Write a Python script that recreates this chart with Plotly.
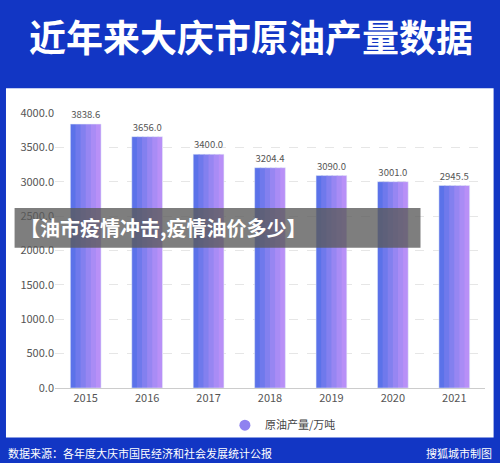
import plotly.graph_objects as go

years = ["2015", "2016", "2017", "2018", "2019", "2020", "2021"]
output = [3838.6, 3656.0, 3400.0, 3204.4, 3090.0, 3001.0, 2945.5]
labels = ["3838.6", "3656.0", "3400.0", "3204.4", "3090.0", "3001.0", "2945.5"]
yticks = [0, 500, 1000, 1500, 2000, 2500, 3000, 3500, 4000]

F = "Noto Sans CJK SC"
fig = go.Figure()
strips = ["#5b72e9", "#6f79ec", "#8380ef", "#9786f2", "#a98cf5", "#b890f7"]
n = len(strips)
w = 0.5
x = list(range(len(years)))
for i, c in enumerate(strips):
    fig.add_trace(go.Bar(x=x, y=output, width=w / n * 1.3 if i < n - 1 else w / n,
                         offset=-w / 2 + i * w / n,
                         marker=dict(color=c, line_width=0), showlegend=False, hoverinfo="skip"))
fig.add_trace(go.Bar(x=x, y=output, width=w, offset=-w / 2, marker=dict(color="rgba(0,0,0,0)"),
                     text=labels, textposition="outside", textfont=dict(size=9.5, color="#555"),
                     cliponaxis=False, showlegend=False))
fig.add_trace(go.Scatter(x=[None], y=[None], mode="markers", name="原油产量/万吨",
                         marker=dict(size=11, color="#8f82f0")))

fig.update_layout(
    width=500, height=463, barmode="overlay", paper_bgcolor="#1236c4", plot_bgcolor="white",
    margin=dict(l=55, r=15, t=113, b=75, autoexpand=False), font=dict(family=F),
    xaxis=dict(tickvals=x, ticktext=years, range=[-0.5, 6.5], showline=True, linecolor="#ccc",
               tickfont=dict(size=11, color="#555"), showgrid=False),
    yaxis=dict(range=[0, 4000], tickvals=yticks, tickformat=".1f", tickfont=dict(size=11, color="#555"),
               gridcolor="#e6e6e6", griddash="dash", zeroline=False),
    legend=dict(orientation="h", x=0.53, xanchor="center", y=-0.135, yanchor="middle",
                font=dict(size=11, color="#444"), bgcolor="rgba(0,0,0,0)"),
    shapes=[
        dict(type="rect", xref="paper", yref="paper", x0=-0.114, x1=1.02, y0=-0.18, y1=1.09,
             fillcolor="white", line_width=0, layer="below"),
        dict(type="rect", xref="paper", yref="paper", x0=-0.094, x1=0.85, y0=0.51, y1=0.655,
             fillcolor="rgba(90,90,90,0.78)", line_width=0, layer="above"),
    ],
    annotations=[
        dict(text="<b>近年来大庆市原油产量数据</b>", xref="paper", yref="paper", x=-0.065, y=1.28,
             xanchor="left", yanchor="middle", showarrow=False, font=dict(size=37, color="white")),
        dict(text="<b>【油市疫情冲击,疫情油价多少】</b>", xref="paper", yref="paper", x=-0.085, y=0.583,
             xanchor="left", yanchor="middle", showarrow=False, font=dict(size=20, color="white")),
        dict(text="数据来源：各年度大庆市国民经济和社会发展统计公报", xref="paper", yref="paper", x=-0.115,
             y=-0.235, xanchor="left", yanchor="middle", showarrow=False, font=dict(size=11, color="white")),
        dict(text="搜狐城市制图", xref="paper", yref="paper", x=1.02, y=-0.235, xanchor="right",
             yanchor="middle", showarrow=False, font=dict(size=11, color="white")),
    ],
)
fig.write_html("out.html", config={"displayModeBar": False},
               post_script="document.body.style.margin='0';")
